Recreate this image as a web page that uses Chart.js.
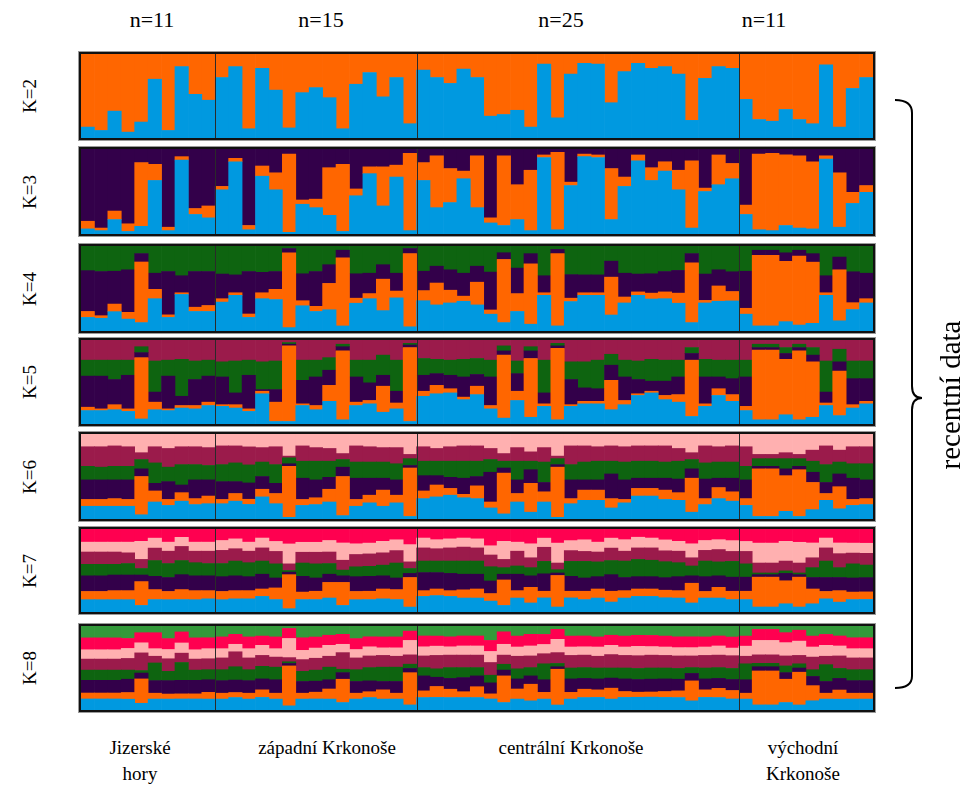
<!DOCTYPE html>
<html>
<head>
<meta charset="utf-8">
<script src="https://cdn.jsdelivr.net/npm/chart.js@4.4.1/dist/chart.umd.min.js"></script>
<style>
  body { margin: 0; background: #fff; width: 971px; height: 787px; position: relative; overflow: hidden;
         font-family: "Liberation Serif", "DejaVu Serif", serif; color: #000; }
  .panel { position: absolute; left: 79px; width: 792px; border: 2px solid #111; box-shadow: 0 0 0 1px #9a9a9a; }
  .panel canvas { display: block; }
  .klab { position: absolute; left: 30px; font-size: 19px; transform: translate(-50%, -50%) rotate(-90deg); white-space: nowrap; }
  .nlab { position: absolute; top: 7px; font-size: 22px; line-height: 26px; transform: translateX(-50%); white-space: nowrap; }
  .blab { position: absolute; top: 735px; font-size: 19px; line-height: 26px; transform: translateX(-50%); text-align: center; white-space: nowrap; }
  .side { position: absolute; left: 950px; top: 395px; font-size: 29px; transform: translate(-50%, -50%) rotate(-90deg); white-space: nowrap; }
</style>
</head>
<body>
<div id="root"></div>
<svg width="971" height="787" style="position:absolute;left:0;top:0;pointer-events:none">
  <path d="M895,100 Q912,100 912,113 L912,386 Q912,398 922,398 Q912,398 912,410 L912,676 Q912,688 895,688" stroke="#000" stroke-width="2" fill="none"/>
</svg>
<div class="side">recentní data</div>
<script>
// group sizes as drawn (bars per region) and their captions
const groupSizes = [10, 15, 24, 10];
const groupN = ['n=11', 'n=15', 'n=25', 'n=11'];
const groupNX = [152, 321, 561, 764];
const groupNames = ['Jizerské<br>hory', 'západní Krkonoše', 'centrální Krkonoše', 'východní<br>Krkonoše'];
const groupNameX = [140, 327, 571, 803];
const clusterColors = ['#0099e0', '#ff6600', '#33004a', '#0e6410', '#9b1b4b', '#ffb0b0', '#ff0050', '#33993a'];

// K=2
const k2Blue = [13,9,32,7,19,70,9,85,52,45, 72,85,11,83,57,12,54,60,48,11,64,78,49,72,17, 81,72,65,82,72,26,28,33,13,88,24,76,89,88,42,79,89,83,85,76,21,71,85,83, 46,22,20,34,22,17,87,13,59,72];
const k2Orange = [87,91,68,93,81,30,91,15,48,55, 28,15,89,17,43,88,46,40,52,89,36,22,51,28,83, 19,28,35,18,28,74,72,67,87,12,76,24,11,12,58,21,11,17,15,24,79,29,15,17, 54,78,80,66,78,83,13,87,41,28];

// K=3
const k3Blue = [6,4,17,3,9,63,4,87,23,19, 52,85,5,68,52,2,35,31,22,3,45,71,33,67,4, 63,31,37,65,31,13,10,17,4,90,5,57,91,90,17,56,86,63,74,52,7,50,58,65, 23,5,4,10,7,6,88,8,36,49];
const k3Orange = [9,3,10,9,75,19,4,4,7,14, 4,4,5,12,20,92,5,10,56,79,8,8,46,14,91, 21,61,40,9,61,6,82,41,71,3,91,4,3,3,60,11,7,15,11,23,79,4,35,18, 11,89,91,83,85,79,4,64,13,8];
const k3Purple = [85,93,73,88,16,18,92,9,70,67, 44,11,90,20,28,6,60,59,22,18,47,21,21,19,5, 16,8,23,26,8,81,8,42,25,7,4,39,6,7,23,33,7,22,15,25,14,46,7,17, 66,6,5,7,8,15,8,28,51,43];

// K=4
const k4Blue = [16,15,23,14,10,38,16,43,23,23, 34,42,16,38,37,4,30,23,25,6,33,38,24,39,5, 36,31,33,35,31,20,10,23,8,42,6,35,42,42,19,33,42,38,38,33,10,33,35,35, 20,6,6,11,7,9,42,12,25,33];
const k4Orange = [7,3,9,8,72,11,3,2,5,7, 4,3,4,7,12,88,6,6,31,81,6,6,37,8,87, 12,26,15,6,27,5,75,21,71,3,85,4,3,3,45,7,4,7,8,12,71,3,18,11, 7,83,83,71,81,72,3,60,8,5];
const k4Purple = [48,52,39,50,10,19,51,20,42,40, 29,21,50,24,21,5,32,41,22,9,29,24,17,21,6, 23,20,24,27,19,45,8,30,12,20,5,28,21,21,19,28,21,23,24,27,11,31,19,23, 44,6,6,10,7,10,20,15,36,30];
const k4Green = [29,30,30,28,9,32,30,35,30,30, 33,34,30,31,30,3,33,30,22,5,33,32,22,32,3, 30,24,28,32,24,31,8,26,9,35,4,34,34,34,18,32,33,33,30,29,9,33,28,30, 30,5,5,8,5,9,35,13,30,32];

// K=5
const k5Blue = [16,16,17,15,6,17,16,19,18,22, 21,19,15,36,3,3,22,17,27,5,22,24,14,18,3, 33,36,37,29,35,18,7,28,8,21,5,21,24,24,17,23,34,37,29,26,9,21,34,27, 16,5,5,11,5,8,22,10,19,24];
const k5Orange = [4,2,6,3,73,9,2,3,4,4, 2,4,3,3,23,90,2,5,19,82,4,4,31,7,88, 6,10,5,3,10,4,75,11,70,3,85,2,3,3,35,5,2,2,5,9,67,3,8,8, 5,83,83,66,82,66,3,53,4,3];
const k5Purple = [37,39,30,40,6,12,39,11,31,31, 33,14,40,2,15,2,28,34,18,5,30,21,13,14,3, 19,14,16,24,14,34,5,21,9,13,3,30,16,15,18,28,17,12,17,21,8,32,14,19, 35,3,3,7,4,8,13,11,31,27];
const k5Green = [19,19,23,18,7,37,19,44,22,19, 18,38,18,33,34,2,24,20,15,3,20,27,24,37,2, 20,17,18,21,19,20,6,15,5,39,3,21,31,34,13,20,22,26,25,20,7,21,20,22, 20,4,4,7,4,9,37,15,21,21];
const k5Maroon = [24,24,24,24,8,25,24,23,25,24, 26,25,24,26,25,3,24,24,21,5,24,24,18,24,4, 22,23,24,23,22,24,7,25,8,24,4,26,26,24,17,24,25,23,24,24,9,23,24,24, 24,5,5,9,5,9,25,11,25,25];

// K=6
const k6Blue = [15,15,15,15,5,20,16,21,17,18, 18,21,17,26,18,2,16,17,20,4,15,19,15,19,3, 24,26,28,25,24,13,6,20,8,20,2,18,22,22,13,19,27,27,23,22,8,17,24,21, 16,3,3,9,3,11,22,12,16,17];
const k6Orange = [8,8,9,8,45,13,7,10,7,9, 5,9,6,9,12,60,7,8,15,46,8,9,19,9,57, 9,14,8,4,15,7,48,10,34,12,59,6,12,12,11,4,9,9,11,9,40,7,13,11, 8,56,56,42,55,32,8,26,7,7];
const k6Purple = [23,23,22,23,9,9,21,9,22,19, 21,14,19,15,12,3,25,21,14,11,25,20,14,18,3, 18,11,13,19,11,35,6,16,16,11,3,22,12,12,29,23,12,12,14,16,11,23,11,16, 22,3,3,8,4,12,13,15,25,22];
const k6Green = [16,15,16,16,11,24,17,24,18,17, 20,22,21,17,22,7,20,22,19,9,19,19,19,19,8, 17,17,19,20,18,15,8,22,10,24,7,18,21,22,15,21,20,20,19,21,11,19,19,19, 16,9,9,12,9,13,21,14,17,19];
const k6Maroon = [23,24,24,23,8,19,22,21,21,21, 22,20,21,17,21,2,18,16,15,7,19,18,17,19,5, 17,15,17,18,18,13,9,16,11,17,3,22,19,17,18,18,18,18,19,15,8,20,18,19, 23,5,5,7,5,13,22,14,20,20];
const k6Pink = [15,15,14,15,22,15,17,15,15,16, 14,14,15,16,15,26,14,16,17,23,14,15,16,16,24, 15,17,15,14,14,17,23,16,21,16,26,14,14,15,14,15,14,14,14,17,22,14,15,14, 15,24,24,22,24,19,14,19,15,15];

// K=7
const k7Blue = [15,15,15,15,8,15,15,15,15,16, 15,16,16,19,15,4,15,15,17,8,15,15,16,15,6, 19,20,19,17,17,13,8,17,11,17,6,17,15,17,12,17,19,19,17,17,11,17,17,15, 15,6,6,10,6,10,16,12,15,15];
const k7Orange = [10,10,11,11,29,12,10,12,11,10, 10,10,10,9,14,41,9,10,19,28,10,10,12,12,36, 7,8,7,10,11,9,31,9,19,8,38,8,10,11,13,9,9,9,9,9,24,8,13,10, 10,36,36,28,36,18,9,14,9,9];
const k7Purple = [19,19,19,19,8,16,17,18,18,18, 18,18,17,18,12,3,19,16,10,8,18,18,16,14,5, 22,20,21,19,18,15,7,20,14,21,3,18,16,15,20,16,15,15,15,17,9,18,14,17, 17,3,3,9,3,14,17,16,17,17];
const k7Green = [14,14,13,14,8,19,17,17,16,15, 16,18,17,16,17,2,16,17,13,7,12,12,13,18,6, 14,14,15,16,16,17,8,10,10,15,4,18,20,18,17,20,21,20,19,17,12,19,17,19, 16,2,2,3,2,12,20,12,17,15];
const k7Maroon = [15,15,15,13,11,15,15,17,14,15, 16,15,14,16,15,8,13,14,14,12,15,15,15,15,8, 16,15,16,17,16,14,10,18,12,17,8,13,12,12,15,12,14,15,13,14,10,13,15,12, 15,12,12,12,12,12,16,17,13,14];
const k7Pink = [12,12,12,13,22,12,11,11,11,11, 12,12,11,12,12,24,12,12,14,21,13,13,14,13,21, 12,11,11,11,11,11,22,11,17,11,24,12,14,12,12,14,13,12,13,12,17,12,12,13, 12,24,24,24,25,18,12,13,12,12];
const k7Red = [16,16,16,16,15,11,16,10,16,16, 14,12,16,11,15,18,16,16,14,17,18,17,15,13,19, 11,13,12,11,12,20,15,16,18,11,17,14,13,16,11,13,10,11,13,15,18,14,13,14, 15,17,17,15,16,17,11,17,17,17];

// K=8
const k8Blue = [13,13,13,13,8,13,13,13,13,13, 13,15,13,15,13,5,13,13,13,9,13,15,13,13,6, 15,15,15,15,15,13,9,13,11,13,6,13,15,15,13,15,15,15,15,15,11,15,15,13, 13,6,6,9,6,11,13,13,13,13];
const k8Orange = [7,7,7,8,29,7,6,6,6,8, 7,6,7,9,7,48,7,8,12,28,7,7,11,7,38, 8,13,10,7,13,6,32,12,20,8,43,8,10,9,13,7,6,6,7,8,24,9,11,10, 7,40,40,28,39,18,7,11,7,7];
const k8Purple = [15,15,15,16,7,15,16,16,16,15, 15,15,15,13,16,3,14,13,11,8,14,13,10,14,5, 18,11,13,17,13,13,7,12,10,15,3,16,13,13,12,15,15,15,15,14,9,13,12,13, 16,5,5,8,5,11,14,14,15,15];
const k8Green = [12,12,12,11,3,21,11,21,12,12, 13,16,13,15,15,2,12,13,15,4,14,16,17,17,5, 10,10,13,12,10,9,7,12,10,19,4,13,13,13,12,13,13,13,13,13,7,13,13,13, 19,4,4,8,5,8,20,12,13,13];
const k8Maroon = [13,13,13,14,21,8,15,11,13,13, 14,18,14,13,12,5,14,14,13,20,14,14,14,13,11, 14,16,15,15,15,15,11,15,14,12,13,15,15,14,16,15,15,15,15,15,14,15,15,15, 9,10,10,12,10,15,10,15,14,14];
const k8Pink = [11,11,11,12,12,9,11,12,11,12, 11,9,11,12,10,23,11,12,13,10,10,11,9,10,17, 11,11,10,11,11,13,13,11,12,11,16,10,10,11,11,10,11,10,10,10,10,10,11,9, 12,17,17,16,17,12,13,12,11,11];
const k8Red = [14,14,14,12,12,19,13,13,14,13, 14,12,14,11,14,12,15,13,12,12,13,12,13,13,11, 13,12,12,12,12,13,15,13,14,12,12,13,13,12,12,13,13,13,13,13,13,12,12,13, 12,13,13,12,13,13,13,12,13,13];
const k8LightGreen = [14,14,14,15,8,8,15,7,14,14, 13,10,13,12,13,3,14,13,11,10,15,13,13,13,6, 12,12,13,12,12,17,7,12,10,10,4,12,12,13,11,12,11,11,12,13,13,13,12,13, 12,4,4,8,5,12,10,12,14,14];

const panels = [
  { k: 2, top: 52, h: 84, series: [k2Blue, k2Orange] },
  { k: 3, top: 147, h: 85, series: [k3Blue, k3Orange, k3Purple] },
  { k: 4, top: 244, h: 85, series: [k4Blue, k4Orange, k4Purple, k4Green] },
  { k: 5, top: 338, h: 84, series: [k5Blue, k5Orange, k5Purple, k5Green, k5Maroon] },
  { k: 6, top: 432, h: 85, series: [k6Blue, k6Orange, k6Purple, k6Green, k6Maroon, k6Pink] },
  { k: 7, top: 527, h: 83, series: [k7Blue, k7Orange, k7Purple, k7Green, k7Maroon, k7Pink, k7Red] },
  { k: 8, top: 624, h: 84, series: [k8Blue, k8Orange, k8Purple, k8Green, k8Maroon, k8Pink, k8Red, k8LightGreen] }
];

const nBars = groupSizes.reduce((a, b) => a + b, 0);
const labels = Array.from({ length: nBars }, (_, i) => String(i + 1));
const cuts = [];
let acc = 0;
groupSizes.slice(0, -1).forEach(s => { acc += s; cuts.push(acc); });

// vertical lines between regions
const separators = {
  id: 'separators',
  afterDatasetsDraw(chart) {
    const { ctx, chartArea, scales } = chart;
    ctx.save();
    ctx.strokeStyle = '#2a2a2a';
    ctx.lineWidth = 1;
    cuts.forEach(c => {
      const x = Math.round((scales.x.getPixelForValue(c - 1) + scales.x.getPixelForValue(c)) / 2) + 0.5;
      ctx.beginPath();
      ctx.moveTo(x, chartArea.top);
      ctx.lineTo(x, chartArea.bottom);
      ctx.stroke();
    });
    ctx.restore();
  }
};

const root = document.getElementById('root');

panels.forEach(p => {
  const box = document.createElement('div');
  box.className = 'panel';
  box.style.top = p.top + 'px';
  box.style.height = p.h + 'px';
  const cv = document.createElement('canvas');
  cv.width = 792;
  cv.height = p.h;
  box.appendChild(cv);
  root.appendChild(box);

  const lab = document.createElement('div');
  lab.className = 'klab';
  lab.style.top = (p.top + 2 + p.h / 2) + 'px';
  lab.textContent = 'K=' + p.k;
  root.appendChild(lab);

  // each individual's memberships add up to one
  const totals = labels.map((_, i) => p.series.reduce((s, arr) => s + arr[i], 0));
  const datasets = p.series.map((arr, j) => ({
    data: arr.map((v, i) => v / totals[i]),
    backgroundColor: clusterColors[j],
    borderWidth: 0,
    barPercentage: 1,
    categoryPercentage: 1
  }));

  new Chart(cv.getContext('2d'), {
    type: 'bar',
    data: { labels, datasets },
    options: {
      responsive: false,
      animation: false,
      layout: { padding: 0 },
      plugins: { legend: { display: false }, tooltip: { enabled: false } },
      scales: {
        x: { stacked: true, display: false, offset: true },
        y: { stacked: true, display: false, min: 0, max: 1 }
      }
    },
    plugins: [separators]
  });
});

// region captions above and below
groupSizes.forEach((s, g) => {
  const n = document.createElement('div');
  n.className = 'nlab';
  n.style.left = groupNX[g] + 'px';
  n.textContent = groupN[g];
  root.appendChild(n);
  const b = document.createElement('div');
  b.className = 'blab';
  b.style.left = groupNameX[g] + 'px';
  b.innerHTML = groupNames[g];
  root.appendChild(b);
});
</script>
</body>
</html>
